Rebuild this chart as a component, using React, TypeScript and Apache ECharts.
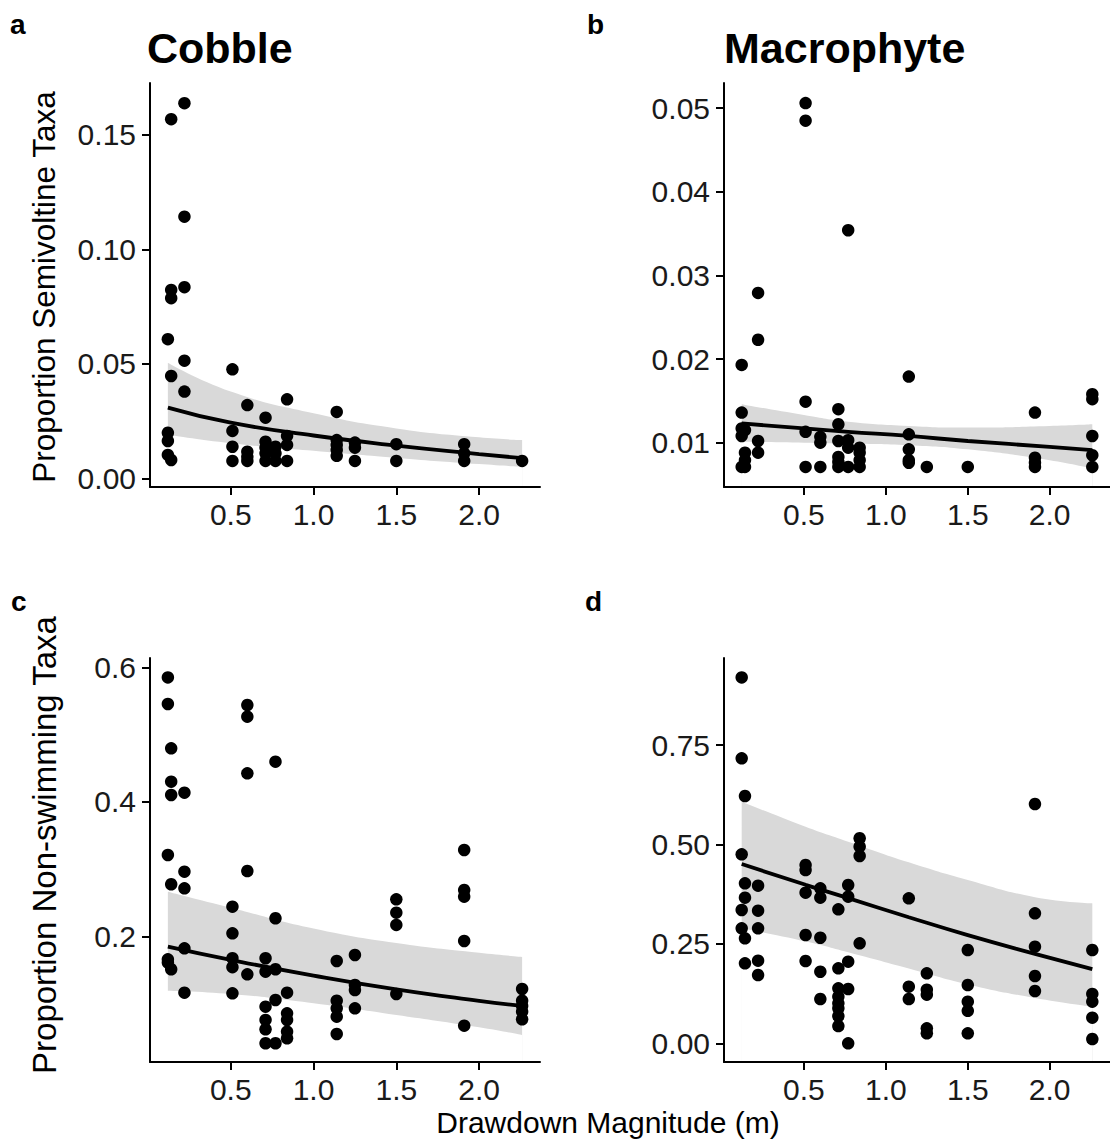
import React, { useEffect, useRef } from "react";
import * as echarts from "echarts";

// Drawdown magnitude (m) axis range and ticks, shared by all four panels
const X_RANGE = [0.012, 2.368];
const xTickValues = [0.5, 1.0, 1.5, 2.0];
const xTickLabels = ["0.5", "1.0", "1.5", "2.0"];

// y-axis ranges and ticks per panel
const yRangeA = [-0.0038, 0.1727];
const yTicksA = [0, 0.05, 0.1, 0.15];
const yLabelsA = ["0.00", "0.05", "0.10", "0.15"];

const yRangeB = [0.0047, 0.053];
const yTicksB = [0.01, 0.02, 0.03, 0.04, 0.05];
const yLabelsB = ["0.01", "0.02", "0.03", "0.04", "0.05"];

const yRangeC = [0.0139, 0.6138];
const yTicksC = [0.2, 0.4, 0.6];
const yLabelsC = ["0.2", "0.4", "0.6"];

const yRangeD = [-0.047, 0.9688];
const yTicksD = [0, 0.25, 0.5, 0.75];
const yLabelsD = ["0.00", "0.25", "0.50", "0.75"];

// a: Cobble, proportion semivoltine taxa
const cobbleSemivoltine: [number, number][] = [
  [0.12, 0.0608], [0.12, 0.0199], [0.12, 0.0163], [0.12, 0.0102],
  [0.14, 0.1569], [0.14, 0.0823], [0.14, 0.0787], [0.14, 0.0447], [0.14, 0.008],
  [0.22, 0.1639], [0.22, 0.1143], [0.22, 0.0835], [0.22, 0.0514], [0.22, 0.0379],
  [0.51, 0.0476], [0.51, 0.0207], [0.51, 0.0138], [0.51, 0.0076],
  [0.6, 0.032], [0.6, 0.0116], [0.6, 0.0094], [0.6, 0.0076],
  [0.71, 0.0265], [0.71, 0.016], [0.71, 0.0134], [0.71, 0.0109], [0.71, 0.0076],
  [0.77, 0.0138], [0.77, 0.0109], [0.77, 0.0076],
  [0.84, 0.0345], [0.84, 0.0185], [0.84, 0.0146], [0.84, 0.0076],
  [1.14, 0.029], [1.14, 0.0167], [1.14, 0.0146], [1.14, 0.0124], [1.14, 0.0098],
  [1.25, 0.0156], [1.25, 0.0134], [1.25, 0.0076],
  [1.5, 0.0149], [1.5, 0.0076],
  [1.91, 0.0149], [1.91, 0.0109], [1.91, 0.0076],
  [2.26, 0.0076],
];
const fitXA = [0.12, 0.5, 1.0, 1.5, 2.0, 2.26];
const fitA = [0.0309, 0.0243, 0.0187, 0.0143, 0.0106, 0.0088];
const upperA = [0.0505, 0.0379, 0.0284, 0.0218, 0.0179, 0.0167];
const lowerA = [0.019, 0.0153, 0.012, 0.0089, 0.0062, 0.005];

// b: Macrophyte, proportion semivoltine taxa
const macrophyteSemivoltine: [number, number][] = [
  [0.12, 0.0193], [0.12, 0.0136], [0.12, 0.0117], [0.12, 0.0108], [0.12, 0.0071],
  [0.14, 0.0115], [0.14, 0.0088], [0.14, 0.0079], [0.14, 0.0071],
  [0.22, 0.0279], [0.22, 0.0223], [0.22, 0.0102], [0.22, 0.0088],
  [0.51, 0.0506], [0.51, 0.0485], [0.51, 0.0149], [0.51, 0.0113], [0.51, 0.0071],
  [0.6, 0.0107], [0.6, 0.01], [0.6, 0.0071],
  [0.71, 0.014], [0.71, 0.0122], [0.71, 0.0102], [0.71, 0.0083], [0.71, 0.0077], [0.71, 0.0071],
  [0.77, 0.0354], [0.77, 0.0103], [0.77, 0.0094], [0.77, 0.0071],
  [0.84, 0.0094], [0.84, 0.0088], [0.84, 0.0079], [0.84, 0.0071],
  [1.14, 0.0179], [1.14, 0.011], [1.14, 0.0092], [1.14, 0.0079], [1.14, 0.0076],
  [1.25, 0.0071],
  [1.5, 0.0071],
  [1.91, 0.0136], [1.91, 0.0082], [1.91, 0.0076], [1.91, 0.0071],
  [2.26, 0.0158], [2.26, 0.0152], [2.26, 0.0108], [2.26, 0.0085], [2.26, 0.0071],
];
const fitXB = [0.12, 0.5, 0.77, 1.14, 1.5, 2.0, 2.26];
const fitB = [0.0123, 0.0117, 0.0113, 0.0108, 0.0102, 0.0095, 0.0091];
const upperB = [0.0146, 0.0133, 0.0125, 0.012, 0.0118, 0.012, 0.0122];
const lowerB = [0.0101, 0.01, 0.0099, 0.0097, 0.0092, 0.0079, 0.0069];

// c: Cobble, proportion non-swimming taxa
const cobbleNonSwimming: [number, number][] = [
  [0.12, 0.585], [0.12, 0.5455], [0.12, 0.3213], [0.12, 0.1664], [0.12, 0.1615],
  [0.14, 0.4797], [0.14, 0.4301], [0.14, 0.4104], [0.14, 0.2778], [0.14, 0.1516],
  [0.22, 0.4138], [0.22, 0.2965], [0.22, 0.2718], [0.22, 0.1827], [0.22, 0.1169],
  [0.51, 0.2446], [0.51, 0.205], [0.51, 0.168], [0.51, 0.1547], [0.51, 0.1159],
  [0.6, 0.544], [0.6, 0.5267], [0.6, 0.4426], [0.6, 0.2975], [0.6, 0.1441],
  [0.71, 0.168], [0.71, 0.148], [0.71, 0.0961], [0.71, 0.0763], [0.71, 0.0625], [0.71, 0.0417],
  [0.77, 0.4599], [0.77, 0.2273], [0.77, 0.1516], [0.77, 0.106], [0.77, 0.0417],
  [0.84, 0.1169], [0.84, 0.0862], [0.84, 0.0763], [0.84, 0.059], [0.84, 0.049],
  [1.14, 0.1639], [1.14, 0.105], [1.14, 0.0936], [1.14, 0.0812], [1.14, 0.0555],
  [1.25, 0.1728], [1.25, 0.1283], [1.25, 0.1208], [1.25, 0.0936],
  [1.5, 0.2555], [1.5, 0.2357], [1.5, 0.2174], [1.5, 0.1149],
  [1.91, 0.3287], [1.91, 0.2693], [1.91, 0.2594], [1.91, 0.1936], [1.91, 0.0679],
  [2.26, 0.1223], [2.26, 0.105], [2.26, 0.0971], [2.26, 0.0887], [2.26, 0.0773],
];
const fitXC = [0.12, 0.5, 1.0, 1.5, 2.0, 2.26];
const fitC = [0.1852, 0.1655, 0.1422, 0.1217, 0.1047, 0.0971];
const upperC = [0.2668, 0.243, 0.212, 0.1905, 0.176, 0.17];
const lowerC = [0.1198, 0.1149, 0.1011, 0.0837, 0.0654, 0.054];

// d: Macrophyte, proportion non-swimming taxa
const macrophyteNonSwimming: [number, number][] = [
  [0.12, 0.92], [0.12, 0.7166], [0.12, 0.4752], [0.12, 0.3352], [0.12, 0.2891],
  [0.14, 0.6218], [0.14, 0.4023], [0.14, 0.3661], [0.14, 0.264], [0.14, 0.2011],
  [0.22, 0.3963], [0.22, 0.3334], [0.22, 0.2891], [0.22, 0.2077], [0.22, 0.1717],
  [0.51, 0.4483], [0.51, 0.4357], [0.51, 0.3787], [0.51, 0.2723], [0.51, 0.2069],
  [0.6, 0.3897], [0.6, 0.3661], [0.6, 0.2655], [0.6, 0.18], [0.6, 0.1114],
  [0.71, 0.3369], [0.71, 0.1886], [0.71, 0.1383], [0.71, 0.1173], [0.71, 0.1005], [0.71, 0.088], [0.71, 0.0686], [0.71, 0.0435],
  [0.77, 0.398], [0.77, 0.3686], [0.77, 0.2052], [0.77, 0.1365], [0.77, 0.0],
  [0.84, 0.5155], [0.84, 0.4943], [0.84, 0.471], [0.84, 0.2514],
  [1.14, 0.3646], [1.14, 0.1423], [1.14, 0.1114],
  [1.25, 0.176], [1.25, 0.1348], [1.25, 0.1223], [1.25, 0.0377], [1.25, 0.0251],
  [1.5, 0.2346], [1.5, 0.1466], [1.5, 0.1046], [1.5, 0.0818], [1.5, 0.0251],
  [1.91, 0.6017], [1.91, 0.3269], [1.91, 0.2429], [1.91, 0.1692], [1.91, 0.1315],
  [2.26, 0.2346], [2.26, 0.124], [2.26, 0.1046], [2.26, 0.0644], [2.26, 0.0108],
];
const fitXD = [0.12, 0.51, 0.77, 1.14, 1.5, 1.91, 2.26];
const fitD = [0.4508, 0.3985, 0.365, 0.317, 0.272, 0.225, 0.1865];
const upperD = [0.6075, 0.5446, 0.507, 0.455, 0.4105, 0.3675, 0.352];
const lowerD = [0.2891, 0.256, 0.229, 0.188, 0.148, 0.114, 0.092];

const FONT = "'Liberation Sans', Arial, Helvetica, sans-serif";
const INK = "#000";
const TEXT = "#1a1a1a";
const BAND = "#d9d9d9";
const PAPER = "#ffffff";
const SMOOTH = 0.5;

const grids = [
  { left: 150, top: 83, width: 390, height: 404 },
  { left: 724, top: 83, width: 389, height: 404 },
  { left: 150, top: 658, width: 390, height: 404 },
  { left: 724, top: 658, width: 389, height: 404 },
];

const labelFor = (values: number[], labels: string[]) => (v: number) => {
  const i = values.findIndex((t) => Math.abs(t - v) < 1e-9);
  return i >= 0 ? labels[i] : "";
};

const axisLineStyle = { color: INK, width: 2 };

function makeXAxis(gridIndex: number) {
  return {
    type: "value",
    gridIndex,
    min: X_RANGE[0],
    max: X_RANGE[1],
    z: 10,
    axisLine: { show: true, onZero: false, lineStyle: axisLineStyle },
    axisTick: { show: true, length: 8, lineStyle: axisLineStyle, customValues: xTickValues },
    axisLabel: {
      customValues: xTickValues,
      formatter: labelFor(xTickValues, xTickLabels),
      fontSize: 30,
      fontFamily: FONT,
      color: TEXT,
      margin: 12,
    },
    splitLine: { show: false },
  };
}

function makeYAxis(gridIndex: number, range: number[], ticks: number[], labels: string[]) {
  return {
    type: "value",
    gridIndex,
    min: range[0],
    max: range[1],
    z: 10,
    axisLine: { show: true, onZero: false, lineStyle: axisLineStyle },
    axisTick: { show: true, length: 8, lineStyle: axisLineStyle, customValues: ticks },
    axisLabel: {
      customValues: ticks,
      formatter: labelFor(ticks, labels),
      fontSize: 30,
      fontFamily: FONT,
      color: TEXT,
      margin: 14,
    },
    splitLine: { show: false },
  };
}

// Confidence band (grey area under the upper bound, masked with the paper
// colour under the lower bound), the scatter of sites and the fitted curve.
function panelSeries(
  idx: number,
  points: [number, number][],
  fitX: number[],
  fit: number[],
  upper: number[],
  lower: number[]
) {
  const pair = (ys: number[]) => fitX.map((x, i) => [x, ys[i]]);
  const common = { xAxisIndex: idx, yAxisIndex: idx, silent: true };
  const hidden = { width: 0, opacity: 0 };
  return [
    {
      ...common,
      type: "line",
      data: pair(upper),
      smooth: SMOOTH,
      symbol: "none",
      lineStyle: hidden,
      areaStyle: { color: BAND, opacity: 1, origin: "start" },
      z: 1,
    },
    {
      ...common,
      type: "line",
      data: pair(lower),
      smooth: SMOOTH,
      symbol: "none",
      lineStyle: hidden,
      areaStyle: { color: PAPER, opacity: 1, origin: "start" },
      z: 2,
    },
    {
      // masks the anti-aliased left edge of the band below its lower bound
      ...common,
      type: "line",
      data: [
        [X_RANGE[0], lower[0]],
        [fitX[0], lower[0]],
      ],
      symbol: "none",
      lineStyle: hidden,
      areaStyle: { color: PAPER, opacity: 1, origin: "start" },
      z: 2,
    },
    {
      ...common,
      type: "scatter",
      data: points,
      symbol: "circle",
      symbolSize: 12.5,
      itemStyle: { color: INK, opacity: 1 },
      z: 3,
    },
    {
      ...common,
      type: "line",
      data: pair(fit),
      smooth: SMOOTH,
      symbol: "none",
      lineStyle: { color: INK, width: 3.8 },
      z: 4,
    },
  ];
}

const text = (
  t: string,
  x: number,
  y: number,
  size: number,
  opts: { bold?: boolean; align?: string; rotation?: number } = {}
) => ({
  type: "text",
  x,
  y,
  rotation: opts.rotation || 0,
  silent: true,
  style: {
    text: t,
    fontSize: size,
    fontFamily: FONT,
    fontWeight: opts.bold ? "bold" : "normal",
    fill: INK,
    align: opts.align || "left",
    verticalAlign: "middle",
  },
});

export default function App() {
  const ref = useRef<HTMLDivElement>(null);

  useEffect(() => {
    if (!ref.current) return;
    const chart = echarts.init(ref.current, undefined, { renderer: "svg" });
    chart.setOption({
      animation: false,
      backgroundColor: PAPER,
      grid: grids,
      xAxis: [0, 1, 2, 3].map((i) => makeXAxis(i)),
      yAxis: [
        makeYAxis(0, yRangeA, yTicksA, yLabelsA),
        makeYAxis(1, yRangeB, yTicksB, yLabelsB),
        makeYAxis(2, yRangeC, yTicksC, yLabelsC),
        makeYAxis(3, yRangeD, yTicksD, yLabelsD),
      ],
      series: [
        ...panelSeries(0, cobbleSemivoltine, fitXA, fitA, upperA, lowerA),
        ...panelSeries(1, macrophyteSemivoltine, fitXB, fitB, upperB, lowerB),
        ...panelSeries(2, cobbleNonSwimming, fitXC, fitC, upperC, lowerC),
        ...panelSeries(3, macrophyteNonSwimming, fitXD, fitD, upperD, lowerD),
      ],
      graphic: [
        text("a", 10, 24, 28, { bold: true }),
        text("b", 587, 24, 28, { bold: true }),
        text("c", 11, 601, 28, { bold: true }),
        text("d", 585, 601, 28, { bold: true }),
        text("Cobble", 147, 48, 43, { bold: true }),
        text("Macrophyte", 724, 48, 43, { bold: true }),
        text("Proportion Semivoltine Taxa", 44, 287, 31.5, { align: "center", rotation: Math.PI / 2 }),
        text("Proportion Non-swimming Taxa", 44, 845, 33, { align: "center", rotation: Math.PI / 2 }),
        text("Drawdown Magnitude (m)", 608, 1122, 30, { align: "center" }),
      ],
    });
    return () => chart.dispose();
  }, []);

  return (
    <div
      ref={ref}
      style={{ position: "fixed", left: 0, top: 0, width: 1110, height: 1139, background: PAPER }}
    />
  );
}
